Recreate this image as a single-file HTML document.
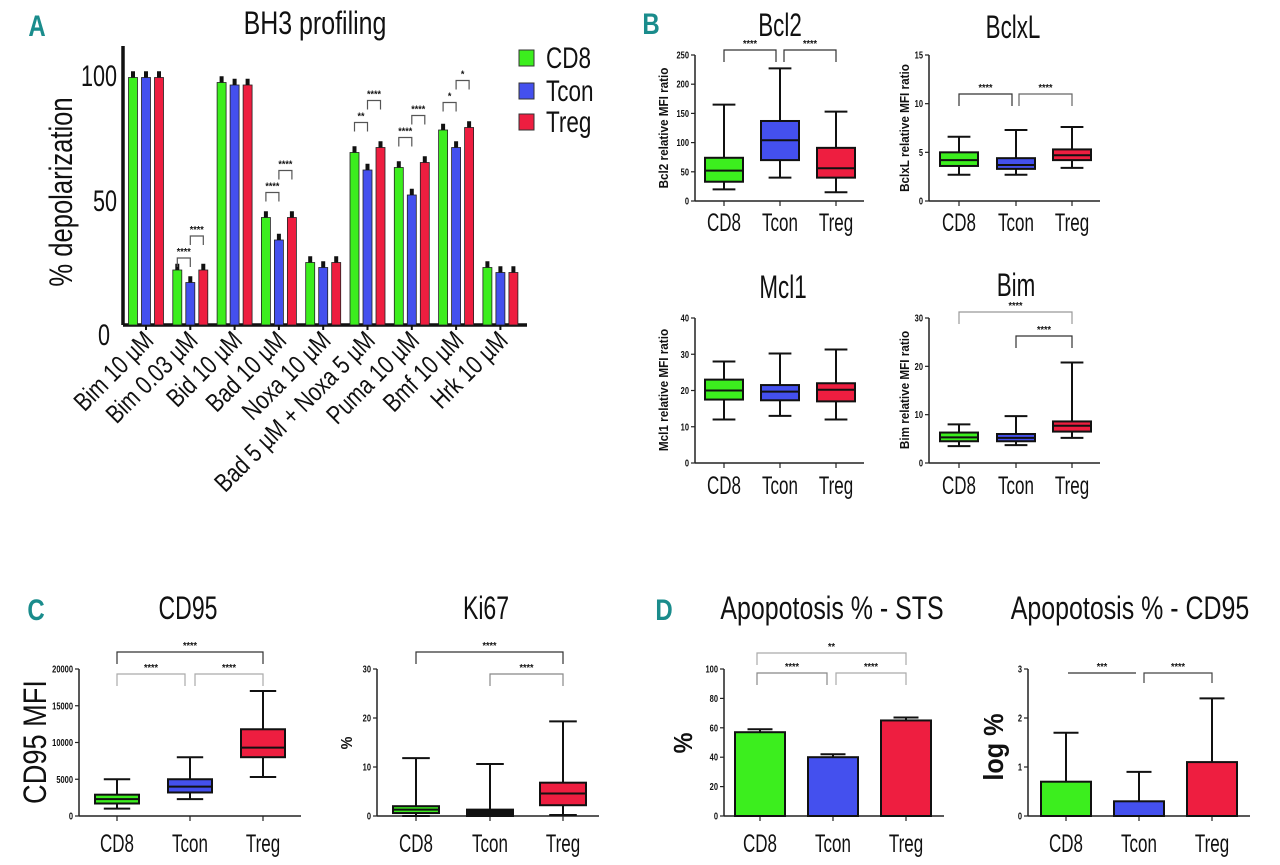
<!DOCTYPE html>
<html><head><meta charset="utf-8"><style>
html,body{margin:0;padding:0;background:#fff;}
svg{display:block;}
text{font-family:"Liberation Sans",sans-serif;fill:#111;}
.b{font-weight:bold;}
.lbl{fill:#1a8c8c;font-weight:bold;}
</style></head><body>
<svg id="chart" width="1280" height="865" viewBox="0 0 1280 865" xmlns="http://www.w3.org/2000/svg"></svg>
<script>
const groups = ['CD8','Tcon','Treg'];
const colors = ['#3cee1e','#4450ee','#ee1e40'];
const bh3Categories = ['Bim 10 µM','Bim 0.03 µM','Bid 10 µM','Bad 10 µM','Noxa 10 µM','Bad 5 µM + Noxa 5 µM','Puma 10 µM','Bmf 10 µM','Hrk 10 µM'];
const bh3CD8 = [99,22,97,43,25,69,63,78,23];
const bh3Tcon = [99,17,96,34,23,62,52,71,21];
const bh3Treg = [99,22,96,43,25,71,65,79,21];
const bh3Ticks = [0,50,100];
const bcl2Boxes = [[20,33,52,74,165],[40,70,104,137,227],[15,40,56,91,153]];
const bcl2Ticks = [0,50,100,150,200,250];
const bclxlBoxes = [[2.7,3.6,4.2,5.0,6.6],[2.7,3.3,3.7,4.4,7.3],[3.4,4.2,4.7,5.3,7.6]];
const bclxlTicks = [0,5,10,15];
const mcl1Boxes = [[12,17.5,20,23,28],[13,17.3,19.7,21.5,30.2],[12,17,20.2,22,31.3]];
const mcl1Ticks = [0,10,20,30,40];
const bimBoxes = [[3.5,4.5,5.3,6.3,8],[3.7,4.5,5.2,6,9.7],[5.2,6.5,7.7,8.6,20.8]];
const bimTicks = [0,10,20,30];
const cd95Boxes = [[1000,1700,2300,2900,5000],[2300,3200,4000,5000,8000],[5300,8000,9300,11800,17000]];
const cd95Ticks = [0,5000,10000,15000,20000];
const ki67Boxes = [[0,0.6,1.3,2,11.8],[0,0,0.5,1.3,10.6],[0.2,2.2,4.6,6.8,19.3]];
const ki67Ticks = [0,10,20,30];
const stsMeans = [57,40,65];
const stsErr = [2,2,2];
const stsTicks = [0,20,40,60,80,100];
const logMeans = [0.7,0.3,1.1];
const logErr = [1.0,0.6,1.3];
const logTicks = [0,1,2,3];

const NS='http://www.w3.org/2000/svg';
const svg=document.getElementById('chart');
function mk(tag,attrs,txt){const e=document.createElementNS(NS,tag);for(const k in attrs)e.setAttribute(k,attrs[k]);if(txt!==undefined)e.textContent=txt;svg.appendChild(e);return e;}
function scale(v0,v1,p0,p1){return v=>p0+(v-v0)*(p1-p0)/(v1-v0);}

function text(x,y,s,size,anchor,name,cls,rot,sx){
  const a={x:0,y:0,'font-size':size,'text-anchor':anchor||'middle'};
  if(cls)a['class']=cls;
  const k=(sx===undefined)?0.78:sx;
  a.transform=`translate(${x},${y}) rotate(${rot||0}) scale(${k},1)`;
  const t=mk('text',a,s);
  
  
  return t;
}
function line(x1,y1,x2,y2,w,c,name){
  const l=mk('line',{x1:x1,y1:y1,x2:x2,y2:y2,stroke:c||'#111','stroke-width':w||1.5});
  
  
  return l;
}
function bracket(x1,x2,y,drop,c,stars,name){
  const p=mk('path',{d:`M${x1},${y+drop}V${y}H${x2}V${y+drop}`,fill:'none',stroke:c,'stroke-width':1.2});
  
  
  text((x1+x2)/2,y-3,stars,10,'middle',name+'-stars','b',0,0.9);
}

function axes(cfg){
  const y=scale(cfg.vmin,cfg.vmax,cfg.base,cfg.top);
  line(cfg.x0,cfg.base,cfg.x0,cfg.top,cfg.aw||1.5,'#222',cfg.name+'-y-axis');
  line(cfg.x0,cfg.base,cfg.xEnd,cfg.base,cfg.aw||1.5,'#222',cfg.name+'-x-axis');
  cfg.ticks.forEach(t=>{
    line(cfg.x0-4,y(t),cfg.x0,y(t),1.2,'#222',cfg.name+'-y-tick');
    text(cfg.x0-6,y(t)+3.5,String(t),cfg.tfs||10,'end',cfg.name+'-y-tick-label','b',0,0.75);
  });
  cfg.cats.forEach((cx,i)=>{
    line(cx,cfg.base,cx,cfg.base+5,1.2,'#222',cfg.name+'-x-tick');
    text(cx,cfg.catY,groups[i],25,'middle',cfg.name+'-x-label-'+groups[i].toLowerCase(),null,0,0.68);
  });
  return y;
}
function boxes(cfg,data){
  const y=axes(cfg);
  const w=cfg.bw;
  data.forEach((d,i)=>{
    const cx=cfg.cats[i];
    line(cx,y(d[0]),cx,y(d[4]),2,'#111',cfg.name+'-whisker');
    line(cx-w*0.3,y(d[0]),cx+w*0.3,y(d[0]),2,'#111',cfg.name+'-whisker-min');
    line(cx-w*0.3,y(d[4]),cx+w*0.3,y(d[4]),2,'#111',cfg.name+'-whisker-max');
    const fill=(cfg.blackIdx===i)?'#111':colors[i];
    const r=mk('rect',{x:cx-w/2,y:y(d[3]),width:w,height:Math.max(1,y(d[1])-y(d[3])),fill:fill,stroke:'#111','stroke-width':2});
    
    
    line(cx-w/2,y(d[2]),cx+w/2,y(d[2]),2,'#111',cfg.name+'-median');
  });
  return y;
}
function bars(cfg,means,errs){
  const y=axes(cfg);
  const w=cfg.bw;
  means.forEach((m,i)=>{
    const cx=cfg.cats[i];
    line(cx,y(m),cx,y(m+errs[i]),2,'#111',cfg.name+'-error');
    line(cx-w*0.25,y(m+errs[i]),cx+w*0.25,y(m+errs[i]),2,'#111',cfg.name+'-error-cap');
    const r=mk('rect',{x:cx-w/2,y:y(m),width:w,height:y(0)-y(m),fill:colors[i],stroke:'#111','stroke-width':2});
    
    
  });
  return y;
}

// ===== Panel A =====
text(37,36,'A',30,'middle','panel-a-label','lbl',0,0.8);
text(315,34,'BH3 profiling',32,'middle','bh3-title',null,0,0.78);
const ay=scale(0,100,325,75);
const gx=i=>146+44.3*i;
line(123,325,123,46,3.5,'#111','bh3-y-axis');
line(123,325,527,325,3.5,'#111','bh3-x-axis');
bh3Ticks.forEach(t=>{
  text(t===0?110:117,ay(t)+(t===0?20:11),String(t),30,'end','bh3-y-tick-label',null,0,0.72);
});
text(72,192,'% depolarization',32,'middle','bh3-y-title',null,-90,0.8);
const series=[bh3CD8,bh3Tcon,bh3Treg];
bh3Categories.forEach((c,i)=>{
  series.forEach((s,j)=>{
    const bx=gx(i)+(j-1)*13;
    const r=mk('rect',{x:bx-4.5,y:ay(s[i]),width:9,height:ay(0)-ay(s[i]),fill:colors[j],stroke:'#222','stroke-width':0.8});
    
    
    line(bx,ay(s[i]),bx,ay(s[i]+2.5),4,'#111','bh3-error-bar');
  });
  line(gx(i),325,gx(i),330,2,'#111','bh3-x-tick');
  text(gx(i)+9,342,c,26,'end','bh3-x-label',null,-45,0.8);
});
const sigIdx=[1,3,5,6,7];
const sigStarsA=[['****','****'],['****','****'],['**','****'],['****','****'],['*','*']];
sigIdx.forEach((gi,k)=>{
  const top=Math.max(bh3CD8[gi],bh3Tcon[gi],bh3Treg[gi]);
  const y1=ay(top)-(gi===1?12:25), y2=y1-22;
  bracket(gx(gi)-13,gx(gi),y1,9,'#555',sigStarsA[k][0],'bh3-sig-cd8-tcon');
  bracket(gx(gi),gx(gi)+13,y2,9,'#555',sigStarsA[k][1],'bh3-sig-tcon-treg');
});
const legY=[50,83,114];
groups.forEach((g,i)=>{
  const r=mk('rect',{x:519,y:legY[i],width:15,height:16,fill:colors[i],stroke:'#333','stroke-width':1});
  
  
  text(546,legY[i]+18,g,30,'start','legend-entry-'+g.toLowerCase(),null,0,0.75);
});

// ===== Panel B =====
text(651,34,'B',30,'middle','panel-b-label','lbl',0,0.8);
text(780,36,'Bcl2',32,'middle','bcl2-title',null,0,0.7);
text(1013,38,'BclxL',32,'middle','bclxl-title',null,0,0.7);
text(783,298,'Mcl1',32,'middle','mcl1-title',null,0,0.7);
text(1016,296,'Bim',32,'middle','bim-title',null,0,0.7);
const bTop={x0:695,base:201,top:55,xEnd:864,cats:[724,780,836],bw:38,catY:231};
boxes(Object.assign({},bTop,{name:'bcl2',vmin:0,vmax:250,ticks:bcl2Ticks}),bcl2Boxes);
text(668,128,'Bcl2 relative MFI ratio',13,'middle','bcl2-y-title','b',-90,0.9);
bracket(724,776,50,12,'#333','****','bcl2-sig-cd8-tcon');
bracket(784,836,50,12,'#333','****','bcl2-sig-tcon-treg');
const bR={x0:929,base:201,top:55,xEnd:1100,cats:[959,1016,1072],bw:38,catY:231};
boxes(Object.assign({},bR,{name:'bclxl',vmin:0,vmax:15,ticks:bclxlTicks}),bclxlBoxes);
text(909,128,'BclxL relative MFI ratio',13,'middle','bclxl-y-title','b',-90,0.9);
bracket(959,1012,94,12,'#333','****','bclxl-sig-cd8-tcon');
bracket(1019,1072,94,12,'#666','****','bclxl-sig-tcon-treg');
const bBl={x0:695,base:463,top:318,xEnd:864,cats:[724,780,836],bw:38,catY:494};
boxes(Object.assign({},bBl,{name:'mcl1',vmin:0,vmax:40,ticks:mcl1Ticks}),mcl1Boxes);
text(668,390,'Mcl1 relative MFI ratio',13,'middle','mcl1-y-title','b',-90,0.9);
const bBr={x0:929,base:463,top:318,xEnd:1100,cats:[959,1016,1072],bw:38,catY:494};
boxes(Object.assign({},bBr,{name:'bim',vmin:0,vmax:30,ticks:bimTicks}),bimBoxes);
text(909,390,'Bim relative MFI ratio',13,'middle','bim-y-title','b',-90,0.9);
bracket(959,1072,312,12,'#999','****','bim-sig-cd8-treg');
bracket(1016,1072,336,12,'#333','****','bim-sig-tcon-treg');

// ===== Panel C =====
text(36,620,'C',30,'middle','panel-c-label','lbl',0,0.8);
text(188,619,'CD95',32,'middle','cd95-title',null,0,0.72);
text(486,619,'Ki67',32,'middle','ki67-title',null,0,0.72);
const cd95={name:'cd95',x0:79,base:816,top:669,xEnd:301,cats:[117,190,263],bw:44,catY:852,vmin:0,vmax:20000,ticks:cd95Ticks,tfs:10};
boxes(cd95,cd95Boxes);
text(46,742,'CD95 MFI',32,'middle','cd95-y-title',null,-90,0.85);
bracket(117,263,652,12,'#333','****','cd95-sig-cd8-treg');
bracket(117,185,674,12,'#aaa','****','cd95-sig-cd8-tcon');
bracket(195,263,674,12,'#aaa','****','cd95-sig-tcon-treg');
const ki67={name:'ki67',x0:377,base:816,top:669,xEnd:599,cats:[416,490,563],bw:46,catY:852,vmin:0,vmax:30,ticks:ki67Ticks,blackIdx:1};
boxes(ki67,ki67Boxes);
text(352,743,'%',16,'middle','ki67-y-title','b',-90,0.9);
bracket(416,563,652,12,'#333','****','ki67-sig-cd8-treg');
bracket(490,563,674,12,'#888','****','ki67-sig-tcon-treg');

// ===== Panel D =====
text(664,620,'D',30,'middle','panel-d-label','lbl',0,0.8);
text(832,619,'Apopotosis % - STS',32,'middle','sts-title',null,0,0.78);
text(1130,619,'Apopotosis % - CD95',32,'middle','cd95-apoptosis-title',null,0,0.78);
const sts={name:'sts',x0:724,base:816,top:669,xEnd:944,cats:[760,833,906],bw:50,catY:852,vmin:0,vmax:100,ticks:stsTicks,tfs:10};
bars(sts,stsMeans,stsErr);
text(692,743,'%',26,'middle','sts-y-title','b',-90,0.9);
bracket(757,906,653,12,'#aaa','**','sts-sig-cd8-treg');
bracket(757,827,673,12,'#888','****','sts-sig-cd8-tcon');
bracket(836,906,673,12,'#aaa','****','sts-sig-tcon-treg');
const lg={name:'log',x0:1028,base:816,top:669,xEnd:1250,cats:[1066,1139,1212],bw:50,catY:852,vmin:0,vmax:3,ticks:logTicks,tfs:10};
bars(lg,logMeans,logErr);
text(1003,747,'log %',28,'middle','log-y-title','b',-90,0.9);
bracket(1068,1136,673,0,'#333','***','log-sig-cd8-tcon');
bracket(1144,1212,673,10,'#444','****','log-sig-tcon-treg');
</script>
</body></html>
